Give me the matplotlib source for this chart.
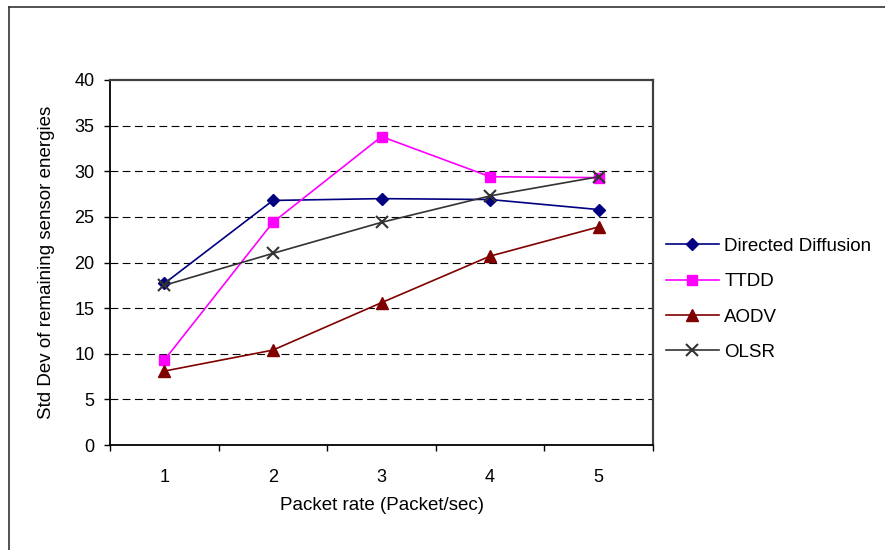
import numpy as np
import matplotlib
matplotlib.use('Agg')
import matplotlib.pyplot as plt
from matplotlib.lines import Line2D

plt.rcParams['font.family'] = ['Liberation Sans', 'DejaVu Sans']

# data
rates = [1, 2, 3, 4, 5]
directed_diffusion = [17.7, 26.8, 27.0, 26.9, 25.8]
ttdd = [9.3, 24.4, 33.8, 29.4, 29.3]
aodv = [8.1, 10.4, 15.6, 20.7, 23.9]
olsr = [17.5, 21.0, 24.4, 27.3, 29.4]
yticks = [0, 5, 10, 15, 20, 25, 30, 35, 40]

series = [
    ('Directed Diffusion', directed_diffusion, '#000080', 'D', 6),
    ('TTDD', ttdd, '#FF00FF', 's', 7),
    ('AODV', aodv, '#800000', '^', 8),
    ('OLSR', olsr, '#333333', 'x', 8),
]

fig = plt.figure(figsize=(8.85, 5.5), dpi=100)
ax = fig.add_axes([110/885, 1 - 445/550, 543/885, 365/550])

x = np.arange(len(rates))
for name, vals, col, mk, ms in series:
    ax.plot(x, vals, color=col, lw=1.2, marker=mk, ms=ms, label=name,
            markeredgecolor=col, markerfacecolor=col, mew=1.5 if mk == 'x' else 1)

for v in yticks[1:-1]:
    ax.axhline(v, color='black', lw=0.8, dashes=(7, 4), zorder=0)

ax.set_xlim(-0.5, len(rates) - 0.5)
ax.set_ylim(0, 40)
ax.set_yticks(yticks)
ax.set_xticks(x)
ax.set_xticklabels([str(r) for r in rates])
ax.set_xticks(np.arange(len(rates) + 1) - 0.5, minor=True)
ax.tick_params(axis='x', which='major', length=0, pad=17, labelsize=13)
ax.tick_params(axis='x', which='minor', length=4, width=1, direction='out')
ax.tick_params(axis='y', length=4.3, width=1, direction='out', pad=7, labelsize=13)

for side in ['left', 'bottom']:
    ax.spines[side].set_color('black')
    ax.spines[side].set_linewidth(1.3)
for side in ['top', 'right']:
    ax.spines[side].set_color('#404040')
    ax.spines[side].set_linewidth(1.6)

ax.set_xlabel('Packet rate (Packet/sec)', fontsize=13.5, labelpad=8)
ax.set_ylabel('Std Dev of remaining sensor energies', fontsize=13.5, labelpad=14)

ax.legend(loc='center left', bbox_to_anchor=(1.0, 0.399), frameon=False,
          fontsize=13.5, handlelength=2.8, handletextpad=0.3, labelspacing=0.97,
          borderaxespad=0.3)

# outer chart border (right and bottom lie outside the picture)
fig.add_artist(Line2D([8.5/885, 8.5/885], [0, 1 - 7/550], color='#333333', lw=1.2,
                      transform=fig.transFigure))
fig.add_artist(Line2D([8.5/885, 1], [1 - 7/550, 1 - 7/550], color='#333333', lw=1.2,
                      transform=fig.transFigure))

plt.savefig('out.png', dpi=100)
